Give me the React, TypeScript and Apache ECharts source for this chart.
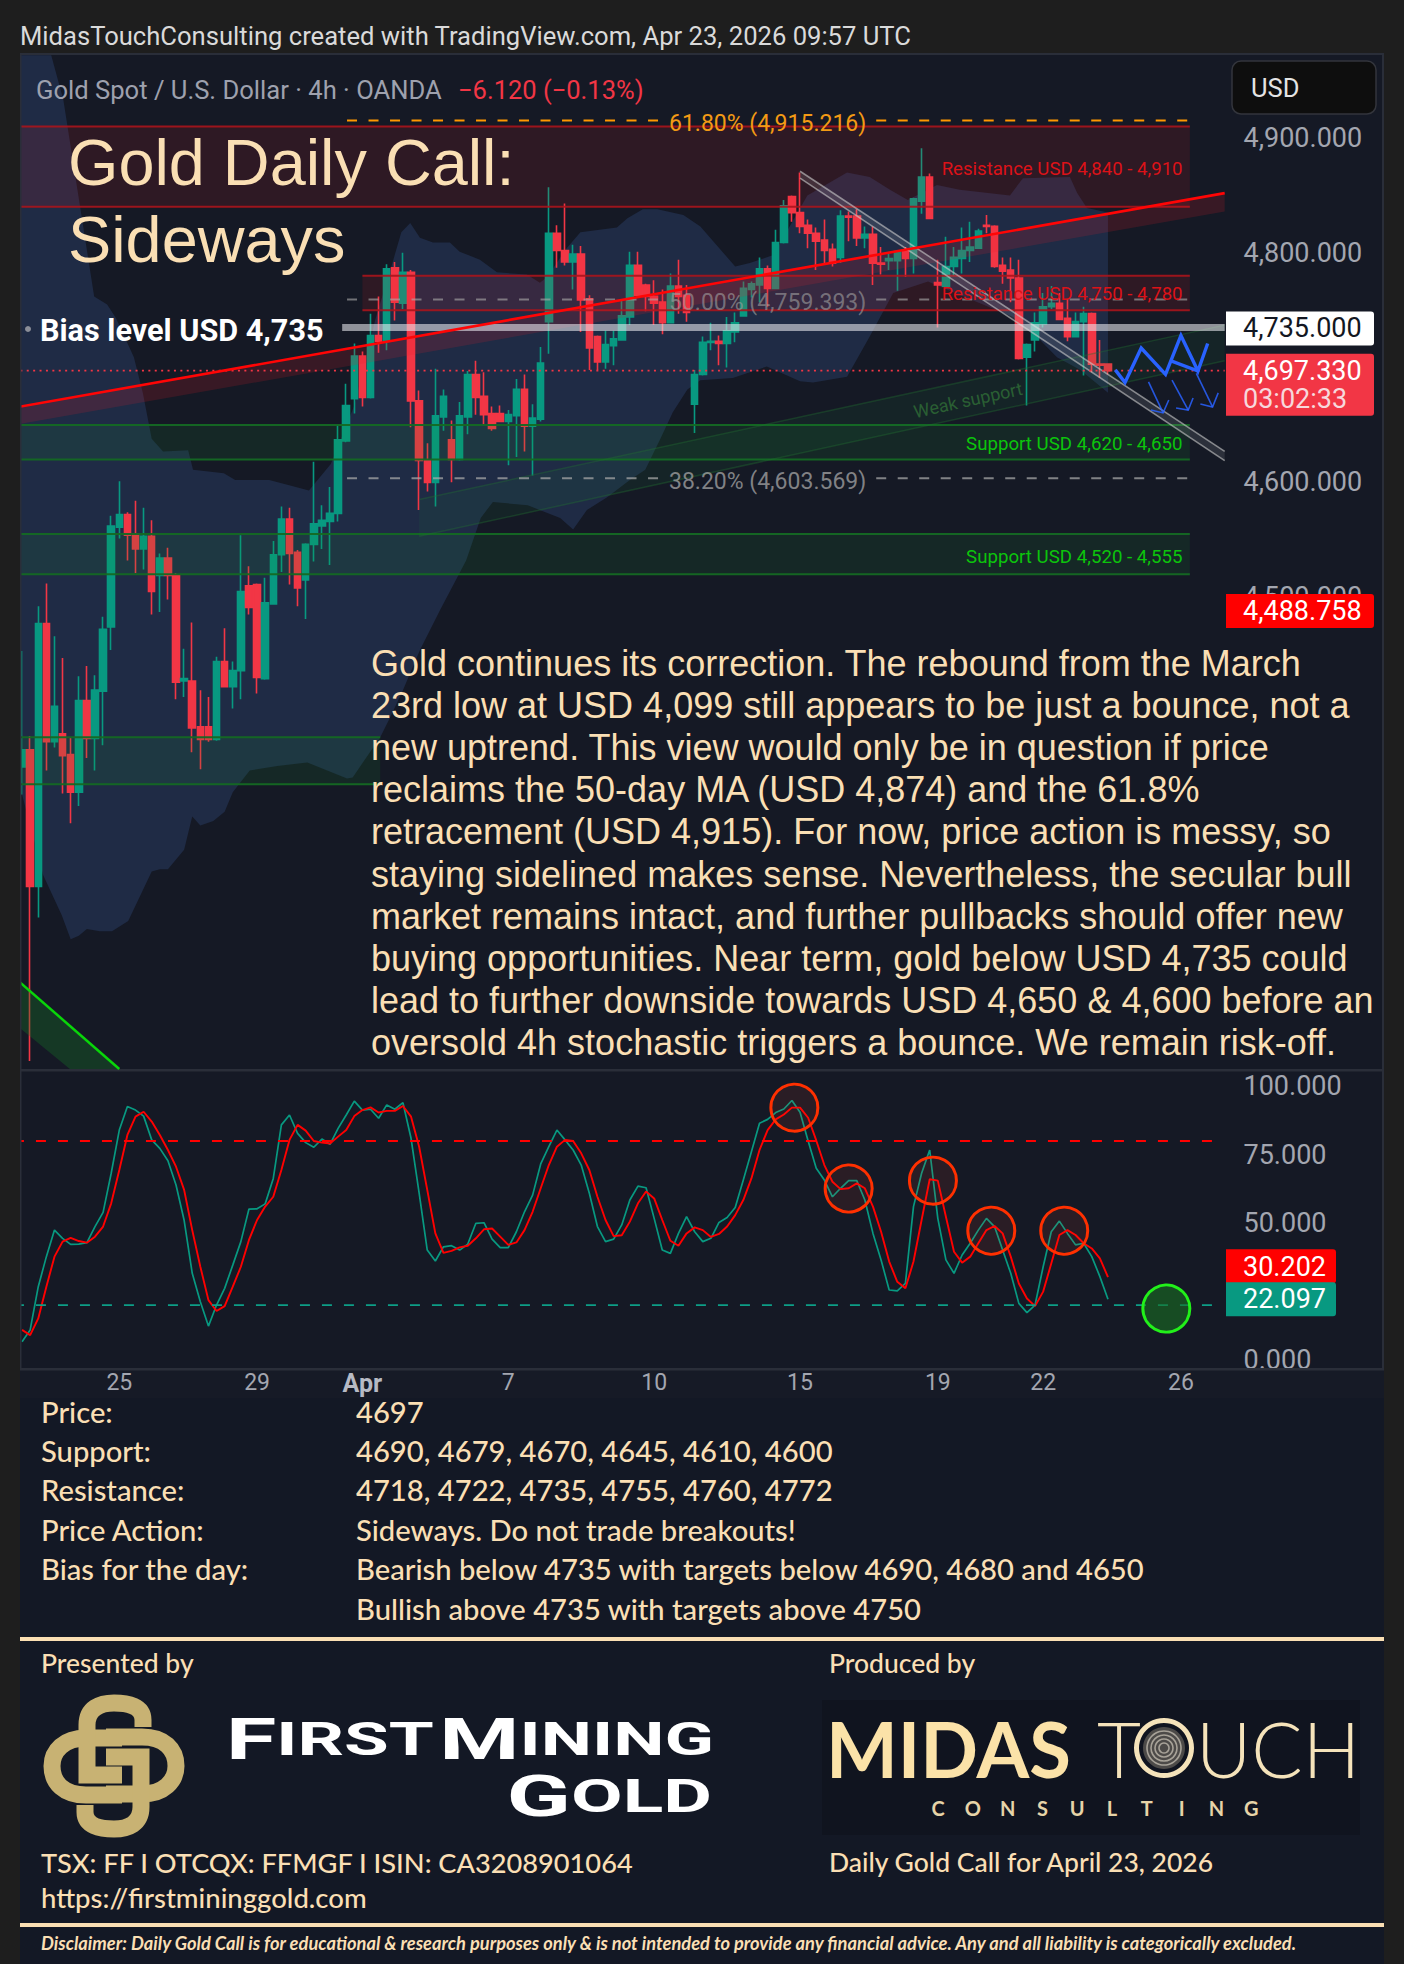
import React, { useEffect, useRef } from "react";
import * as echarts from "echarts";

// ---------- DATA ----------
const tickLabels: Record<number, string> = { 12: "25", 29: "29", 42: "Apr", 60: "7", 78: "10", 96: "15", 113: "19", 126: "22", 143: "26" };
const categories = Array.from({ length: 149 }, (_, i) => String(i));
const priceTicks = [4500, 4600, 4800, 4900];
const stochTicks = [0, 50, 75, 100];

// [open, close, low, high]
const candles: number[][] = [
  [4352,4367,4328,4453],[4367,4248,4096,4379],[4248,4477,4221,4492],[4477,4374,4349,4512],[4374,4405,4369,4466],
  [4381,4362,4329,4447],[4363,4330,4303,4378],[4330,4410,4318,4431],[4410,4377,4360,4440],[4377,4419,4349,4432],
  [4418,4472,4371,4483],[4474,4562,4454,4571],[4561,4572,4551,4601],[4572,4554,4532,4574],[4555,4542,4521,4584],
  [4542,4553,4524,4578],[4553,4505,4485,4567],[4519,4534,4487,4538],[4534,4519,4498,4543],[4519,4426,4411,4521],
  [4427,4429,4413,4455],[4427,4386,4365,4478],[4387,4376,4350,4419],[4387,4376,4374,4413],[4376,4444,4375,4448],
  [4444,4422,4422,4473],[4422,4436,4403,4444],[4436,4505,4411,4554],[4510,4491,4485,4527],[4511,4430,4416,4512],
  [4429,4495,4428,4517],[4494,4537,4494,4549],[4537,4568,4522,4579],[4568,4538,4511,4578],[4539,4508,4492,4541],
  [4515,4546,4481,4547],[4546,4564,4531,4618],[4562,4567,4542,4580],[4566,4573,4528,4596],[4573,4637,4566,4650],
  [4636,4667,4635,4686],[4673,4710,4660,4721],[4710,4674,4666,4714],[4674,4728,4673,4747],[4728,4723,4713,4762],
  [4723,4786,4715,4790],[4787,4757,4741,4792],[4756,4783,4751,4800],[4783,4671,4648,4785],[4671,4619,4576,4680],
  [4619,4600,4592,4634],[4600,4658,4579,4699],[4657,4675,4645,4681],[4637,4620,4600,4654],[4620,4658,4619,4670],
  [4657,4694,4642,4697],[4694,4674,4659,4706],[4675,4659,4650,4696],[4660,4647,4645,4666],[4660,4653,4653,4667],
  [4653,4659,4615,4663],[4658,4681,4622,4690],[4681,4649,4627,4694],[4649,4656,4606,4668],[4655,4704,4653,4718],
  [4740,4817,4712,4857],[4817,4802,4787,4824],[4802,4792,4789,4843],[4792,4799,4768,4807],[4799,4759,4731,4806],
  [4760,4717,4698,4763],[4727,4705,4698,4728],[4705,4720,4699,4732],[4719,4725,4702,4732],[4724,4745,4724,4759],
  [4744,4789,4737,4801],[4789,4763,4762,4801],[4772,4762,4749,4773],[4762,4756,4737,4776],[4757,4739,4729,4768],
  [4739,4771,4739,4782],[4771,4762,4747,4794],[4763,4748,4740,4772],[4668,4694,4643,4698],[4694,4722,4693,4727],
  [4722,4723,4715,4739],[4723,4721,4702,4728],[4721,4732,4700,4744],[4731,4739,4722,4748],[4745,4769,4745,4775],
  [4768,4773,4761,4775],[4772,4786,4757,4796],[4786,4769,4753,4789],[4769,4809,4769,4820],[4809,4841,4808,4846],
  [4849,4835,4827,4850],[4835,4823,4817,4870],[4824,4817,4804,4829],[4817,4810,4785,4822],[4811,4802,4791,4829],
  [4803,4791,4788,4808],[4796,4832,4791,4837],[4832,4831,4810,4836],[4832,4813,4806,4838],[4813,4816,4804,4823],
  [4816,4791,4772,4823],[4791,4790,4781,4805],[4793,4795,4785,4799],[4793,4801,4767,4802],[4802,4795,4779,4805],
  [4795,4847,4782,4848],[4845,4866,4834,4891],[4866,4830,4830,4869],[4774,4772,4735,4794],[4771,4788,4770,4814],
  [4788,4796,4780,4805],[4795,4802,4782,4822],[4802,4805,4792,4827],[4804,4819,4804,4821],[4824,4823,4817,4833],
  [4823,4788,4787,4824],[4789,4784,4773,4796],[4785,4778,4757,4796],[4778,4708,4707,4794],[4709,4720,4667,4721],
  [4724,4739,4714,4748],[4738,4753,4735,4765],[4753,4756,4751,4771],[4756,4742,4742,4765],[4743,4727,4723,4760],
  [4727,4740,4727,4748],[4740,4747,4693,4753],[4747,4703,4696,4748],[4703,4702,4691,4724],[4703,4697.33,4694,4703],
];

const stochK = [
  6.6,10.9,26.7,37.7,47.4,44.4,42.2,42.3,42.8,48.7,53.9,68.2,84,92.6,91.3,89.1,80.4,77.3,72.8,63.9,
  51,31.6,21.2,12.3,20,26.1,34.6,43.2,55.1,55.2,57,66.3,85.9,89.5,82.8,79.4,77.7,80.7,78.8,84.6,
  89.5,94.6,91.3,91.6,88.3,93.2,91.6,94,81,60.9,40.1,36.1,41.3,41.7,40.1,42.3,49.9,50.1,44.1,41,
  41,46.8,54.1,60.2,71.6,77.9,84,80.4,76.7,71.2,60.9,48.7,43.2,44.1,49.3,58.4,63.5,62.9,51.7,40.1,
  38.9,46.2,52.3,46.8,43.2,44.4,50.2,52,55.7,65.7,76.1,86.5,87.9,90.4,91.7,94.8,90.5,80,70,65.7,
  59.6,62.7,65.5,65.5,58.4,46.2,36.5,25.5,25.2,27.9,56,68.2,76.7,51.7,36.5,31.6,38.3,42.6,47.4,51.7,
  48.7,40.1,31.6,20.6,17.2,20,34,46.8,50.7,46.2,42,42.6,37.7,30.4,22.097,
];
const stochD = [
  10.9,9,15.1,26.7,37.7,43.2,44.6,43.4,42.8,45,48.7,57.2,69.4,82.2,88.9,90.7,87.1,82.2,76.7,70.6,
  62.1,47.4,34,21.8,17.8,19.6,26.7,34,43.8,51.1,56,59.6,69.4,80.4,85.9,83.8,80,79.4,79.1,81.6,
  84,89.1,91.3,92.3,90.4,91,91,92.8,88.9,77.9,62.1,46.2,39.1,39.8,41.1,41.7,44.4,47.7,48,45,
  42,42.9,47.4,54.1,62.7,71.2,77.9,80.4,80,75.5,69.4,59.6,51.1,45.2,45.5,50.5,57.2,61.5,59,51.1,
  43.5,41.7,46.2,48.4,47.4,44.9,46,48.7,52.9,58.4,66.3,76.7,84,87.9,89.7,92.2,92.2,88.5,80.2,71.2,
  65.1,62.4,62.7,64.5,62.7,56,46.8,35.9,28.5,26.1,35.9,51.1,66,65.5,52.3,39.5,35.5,37.7,42.6,47.4,
  48.9,46.2,37.7,27.9,22.4,19.6,24.9,35.2,45.6,47.4,45.6,42.6,40.7,37.1,30.202,
];

// Shaded price band behind the candles: [bar index, price]
const cloudOutline: number[][] = [
  [-1,4972],[3.6,4972],[5.1,4933],[8.9,4762],[10.5,4755],[11.6,4743],[13.8,4709],[14.9,4678],[16,4638],[17.4,4627],
  [20.5,4628],[21.1,4611],[24.9,4608],[26.3,4602],[30.5,4602],[33.2,4597],[35.4,4593],[38.1,4616],[41,4667],[43.6,4742],
  [45.9,4796],[46.8,4818],[47.9,4826],[49.1,4813],[50.7,4809],[52.8,4809],[54,4801],[56.5,4794],[58.6,4783],[62.3,4781],
  [63.9,4774],[64.8,4779],[67.2,4804],[68.9,4818],[73.4,4822],[74.7,4830],[76.6,4838],[78.4,4838],[81.6,4833],[83.7,4823],
  [88,4788],[89.8,4791],[92.7,4798],[96.9,4850],[101.8,4870],[104.6,4866],[107.1,4855],[109.3,4846],[112.9,4859],[115.7,4855],
  [121.9,4850],[123.5,4865],[129.3,4866],[130.2,4852],[131.4,4839],[134,4835],
  [134,4678],[130.6,4698],[127.7,4709],[124.8,4730],[122.3,4744],[114.1,4768],[111.8,4775],[107.5,4765],[104.6,4727],[103,4707],
  [101.8,4692],[97.6,4687],[96,4688],[91.9,4701],[87.7,4691],[83.7,4689],[82.1,4681],[80.3,4661],[78.7,4637],[76.9,4611],
  [75,4602],[72.2,4587],[69.7,4576],[68,4559],[66.4,4569],[62.4,4580],[58.1,4583],[56.6,4569],[54.8,4532],[51.6,4489],
  [49.1,4454],[47,4419],[45.4,4395],[44.2,4378],[40.8,4343],[40.1,4342],[35.2,4356],[31.5,4353],[28.1,4349],[26,4330],
  [25,4313],[23.6,4305],[22,4301],[21,4309],[20,4280],[18,4263],[17,4263],[16,4261],[13.1,4218],[11.1,4209],
  [9.6,4209],[8,4211],[7,4205],[6,4202],[4.9,4223],[2.6,4258],[0,4328],[-1,4328],
];

const resistanceZones = [
  { from: -1, to: 144.1, low: 4840, high: 4910, label: "Resistance USD 4,840 - 4,910", labelPrice: 4873 },
  { from: 42, to: 144.1, low: 4750, high: 4780, label: "Resistance USD 4,750 - 4,780", labelPrice: 4764 },
];
const supportZones = [
  { from: -1, to: 144.1, low: 4620, high: 4650, label: "Support USD 4,620 - 4,650", labelPrice: 4633 },
  { from: -1, to: 144.1, low: 4520, high: 4555, label: "Support USD 4,520 - 4,555", labelPrice: 4535 },
  { from: -1, to: 44.2, low: 4337, high: 4378, label: "", labelPrice: 0 },
];
const fibLevels = [
  { value: 4915.216, label: "61.80% (4,915.216)", color: "#ff9800", text: "#f39a14" },
  { value: 4759.393, label: "50.00% (4,759.393)", color: "rgba(170,170,170,.62)", text: "rgba(160,160,160,.62)" },
  { value: 4603.569, label: "38.20% (4,603.569)", color: "rgba(170,170,170,.72)", text: "rgba(165,165,165,.75)" },
];
const fibSpans = [[40.1, 78.7], [105.4, 144.1]];
const fibLabelBar = 92;

const lastPrice = 4697.33;
const biasLevel = 4735;
const lowLevel = 4488.758;
const overbought = 80;
const oversold = 20;

const redTrend = [[-1, 4665], [148.4, 4852]];
const redChannel = [[-1, 4665], [148.4, 4852], [148.4, 4836], [-1, 4650]];
const weakUpper = [[49, 4585], [148.4, 4737]];
const weakLower = [[49, 4553], [148.4, 4706]];
const greenTrend = [[-1, 4169], [12, 4089]];
const greenChannel = [[-1, 4169], [12, 4089], [5.9, 4089], [-1, 4129]];
const greyUpper = [[96, 4871], [148.4, 4627]];
const greyLower = [[96, 4865], [148.4, 4619]];
const blueZig = [[134.9,4698],[136.1,4687],[138.1,4717],[141.1,4694],[143,4728],[145.1,4697],[146.3,4721]];
const blueLink = [[141.7,4706],[145.1,4697]];
const blueArrows = [
  { shaft: [[139,4687.5],[140.8,4660.5]], barbs: [[141.5,4671.8],[140.8,4660.5],[139.3,4663]] },
  { shaft: [[141.9,4689],[143.9,4663]], barbs: [[144.5,4673.5],[143.9,4663],[142.4,4664.8]] },
  { shaft: [[144.9,4695],[146.9,4665.7]], barbs: [[147.6,4678],[146.9,4665.7],[145.4,4668.3]] },
];
const redRings = [[95.3,92.2],[102,62.6],[112.4,65.5],[119.6,47.2],[128.6,47.2]];
const greenRing = [141.2,18.7];

const paragraphLines = [
  "Gold continues its correction. The rebound from the March",
  "23rd low at USD 4,099 still appears to be just a bounce, not a",
  "new uptrend. This view would only be in question if price",
  "reclaims the 50-day MA (USD 4,874) and the 61.8%",
  "retracement (USD 4,915). For now, price action is messy, so",
  "staying sidelined makes sense. Nevertheless, the secular bull",
  "market remains intact, and further pullbacks should offer new",
  "buying opportunities. Near term, gold below USD 4,735 could",
  "lead to further downside towards USD 4,650 & 4,600 before an",
  "oversold 4h stochastic triggers a bounce. We remain risk-off.",
];
const tableRows = [
  ["Price:", "4697"],
  ["Support:", "4690, 4679, 4670, 4645, 4610, 4600"],
  ["Resistance:", "4718, 4722, 4735, 4755, 4760, 4772"],
  ["Price Action:", "Sideways. Do not trade breakouts!"],
  ["Bias for the day:", "Bearish below 4735 with targets below 4690, 4680 and 4650"],
  ["", "Bullish above 4735 with targets above 4750"],
];
const consultingLetters = "CONSULTING".split("");

// ---------- LOOK ----------
const UP = "#089981";
const DOWN = "#f23645";
const CREAM = "#fadfb4";
const AXIS = "#a3a6b0";
const UI = "Roboto";
const ARIAL = '"Liberation Sans"';
const SCALE_FONT = 27;

echarts.graphic.registerShape("knotHook", echarts.graphic.extendPath("M29 -39 V-46 C29 -60 14 -63 0 -63 C-14 -63 -27 -58 -27 -41 V9 H8", {}));
echarts.graphic.registerShape("knotLoop", echarts.graphic.extendPath("M8 -28 H-28 C-50 -28 -62 -15 -62 0 C-62 17 -50 29 -28 29 H8", {}));

const fmt = (v: number) => v.toLocaleString("en-US", { minimumFractionDigits: 3, maximumFractionDigits: 3 });

const pts = (api: any, list: number[][]) => list.map((p) => api.coord(p));
const lineEl = (api: any, list: number[][], stroke: string, lineWidth: number, lineDash?: number[]) => ({
  type: "polyline", shape: { points: pts(api, list) }, style: { fill: null, stroke, lineWidth, lineDash, lineCap: "butt", lineJoin: "miter" },
});
const polyEl = (api: any, list: number[][], fill: string) => ({ type: "polygon", shape: { points: pts(api, list) }, style: { fill, stroke: null } });
const textEl = (text: string, x: number, y: number, font: string, fill: string, align = "left", extra: any = {}) => ({
  type: "text",
  ...extra,
  style: { text, x, y, font, fill, align, textAlign: align, verticalAlign: "middle", textVerticalAlign: "middle" },
});
const overlay = (id: string, axis: number, z: number, clip: boolean, sample: number[], build: (api: any) => any[]) => ({
  type: "custom", id, name: id, coordinateSystem: "cartesian2d", xAxisIndex: axis + 2, yAxisIndex: axis, z, clip, silent: true,
  data: [sample], encode: { x: 0, y: 1 },
  renderItem: (_p: any, api: any) => ({ type: "group", children: build(api) }),
});

function buildGraphics() {
  const els: any[] = [];
  const rect = (x: number, y: number, w: number, h: number, fill: string, z = -5, r = 0, stroke?: string) =>
    els.push({ type: "rect", z, silent: true, shape: { x, y, width: w, height: h, r }, style: { fill, stroke, lineWidth: stroke ? 1.5 : 0 } });
  const text = (t: string, x: number, y: number, font: string, fill: string, align = "left", extra: any = {}) =>
    els.push({ z: 30, silent: true, ...textEl(t, x, y, font, fill, align, extra) });

  // frames and panels
  rect(20, 54, 1364, 1316, "#151925", -6);
  rect(20, 1370, 1364, 28, "#161a26", -6);
  rect(20, 1398, 1364, 566, "#131825", -6);
  rect(0, 40, 20, 1335, "#1e1e1e", 20);
  rect(20, 1069, 1364, 2.5, "#2a2e39", 6);
  rect(20, 1368, 1364, 2.5, "#2a2e39", 6);
  rect(20, 53, 1364, 2, "#2a2e39", 6);
  rect(20, 54, 1.5, 1316, "#2a2e39", 21);
  rect(1382, 54, 2, 1316, "#2a2e39", 6);
  rect(1384, 1375, 20, 589, "#1e1e1e", 6);
  rect(0, 1375, 20, 589, "#1e1e1e", 6);

  // header
  text("MidasTouchConsulting created with TradingView.com, Apr 23, 2026 09:57 UTC", 20, 36, `400 25.6px ${UI}`, "#dadada");
  text("Gold Spot / U.S. Dollar · 4h · OANDA", 36, 90, `400 25.6px ${UI}`, "#9ea1ae");
  text("−6.120 (−0.13%)", 458, 90, `400 25.5px ${UI}`, "#f23645");

  // currency button
  rect(1232, 61, 144, 53, "#0e0e0e", 8, 9, "#33353c");
  text("USD", 1251, 88, `400 25.5px ${UI}`, "#e4e4e4");

  // headline
  text("Gold Daily Call:", 68, 162, `400 64.8px ${ARIAL}`, CREAM);
  text("Sideways", 68, 239, `400 64.8px ${ARIAL}`, CREAM);
  els.push({ type: "circle", z: 30, silent: true, shape: { cx: 28, cy: 329, r: 3 }, style: { fill: "#8b8e98" } });
  text("Bias level USD 4,735", 40, 330, `700 30.6px ${UI}`, "#ffffff");

  // commentary
  paragraphLines.forEach((l, i) => text(l, 371, 663 + i * 42.2, `400 36px ${ARIAL}`, CREAM));

  // weak support label
  els.push({
    z: 12, silent: true, type: "text", x: 968, y: 400, rotation: 0.215, originX: 0, originY: 0,
    style: { text: "Weak support", x: 0, y: 0, font: `400 18px ${UI}`, fill: "#2a5f33", align: "center", textAlign: "center", verticalAlign: "middle", textVerticalAlign: "middle" },
  });

  // levels table
  tableRows.forEach((r, i) => {
    const y = 1411 + i * 39.4;
    if (r[0]) text(r[0], 41, y, "500 29.2px Lato", CREAM);
    text(r[1], 356, y, "500 29.2px Lato", CREAM);
  });
  rect(20, 1637, 1364, 4, CREAM, 10);
  rect(20, 1923, 1364, 4, CREAM, 10);

  // sponsor blocks
  text("Presented by", 41, 1663, "500 26.5px Lato", CREAM);
  text("Produced by", 829, 1663, "500 26.5px Lato", CREAM);
  text("TSX: FF I OTCQX: FFMGF I ISIN: CA3208901064", 41, 1862, "500 27.2px Lato", CREAM);
  text("https://firstmininggold.com", 41, 1897, "500 27.5px Lato", CREAM);
  text("Daily Gold Call for April 23, 2026", 829, 1862, "500 26.5px Lato", CREAM);
  text("Disclaimer: Daily Gold Call is for educational & research purposes only & is not intended to provide any financial advice. Any and all liability is categorically excluded.", 41, 1943, "italic 700 18.3px Lato", CREAM);

  // First Mining emblem
  const gold = "#c8b273";
  [0, Math.PI].forEach((rotation) => {
    els.push({ type: "knotLoop", x: 114, y: 1766, rotation, z: 30, silent: true, style: { fill: "none", stroke: gold, lineWidth: 17 } });
    els.push({ type: "knotHook", x: 114, y: 1766, rotation, z: 31, silent: true, style: { fill: "none", stroke: gold, lineWidth: 17 } });
  });
  // First Mining wordmark
  els.push({
    type: "text", z: 30, silent: true, x: 226, y: 1739, scaleX: 1.58,
    style: {
      text: "{a|F}{b|IRST} {a|M}{b|INING}", x: 0, y: 0, fill: "#fff", verticalAlign: "middle", textVerticalAlign: "middle",
      rich: { a: { font: "700 58px Roboto", fill: "#fff" }, b: { font: "700 46px Roboto", fill: "#fff" } },
    },
  });
  els.push({
    type: "text", z: 30, silent: true, x: 712, y: 1796, scaleX: 1.63,
    style: {
      text: "{a|G}{b|OLD}", x: 0, y: 0, fill: "#fff", align: "right", textAlign: "right", verticalAlign: "middle", textVerticalAlign: "middle",
      rich: { a: { font: "700 58px Roboto", fill: "#fff" }, b: { font: "700 46px Roboto", fill: "#fff" } },
    },
  });

  // Midas Touch wordmark
  rect(822, 1700, 538, 135, "#10141f", 10);
  text("MIDAS", 826, 1748, "700 76px Lato", "#fbe2a8");
  text("T", 1097, 1748, "300 76px Lato", "#f5e3ba");
  text("UCH", 1196, 1748, "300 76px Lato", "#f5e3ba");
  els.push({ type: "ring", z: 31, silent: true, shape: { cx: 1164, cy: 1748, r: 30, r0: 25 }, style: { fill: "#f5e3ba" } });
  els.push({ type: "circle", z: 31, silent: true, shape: { cx: 1164, cy: 1748, r: 21 }, style: { fill: "#4c4a48" } });
  [17, 13, 9, 5].forEach((r) =>
    els.push({ type: "ring", z: 32, silent: true, shape: { cx: 1164, cy: 1748, r: r + 0.8, r0: r - 0.8 }, style: { fill: "#a7a298" } })
  );
  consultingLetters.forEach((c, i) => text(c, 938 + i * 34.8, 1808, "700 20px Lato", "#e7d4a8", "center"));

  return els;
}

function buildOption(): any {
  const gridLeft = 18;
  const gridWidth = 1207.5;
  const priceMin = 4088.1;
  const priceMax = 4972.3;

  const hiddenValueX = (gridIndex: number) => ({
    type: "value", gridIndex, min: -0.5, max: 148.5, show: false,
    axisLabel: { show: false }, splitLine: { show: false }, axisLine: { show: false }, axisTick: { show: false },
  });

  return {
    animation: false,
    backgroundColor: "#1e1e1e",
    grid: [
      { left: gridLeft, top: 55, width: gridWidth, height: 1015 },
      { left: gridLeft, top: 1071, width: gridWidth, height: 298 },
    ],
    xAxis: [
      { type: "category", gridIndex: 0, data: categories, show: false, boundaryGap: true },
      {
        type: "category", gridIndex: 1, data: categories, boundaryGap: true,
        axisLine: { show: false }, axisTick: { show: false }, splitLine: { show: false },
        axisLabel: {
          interval: (i: number) => tickLabels[i] !== undefined,
          hideOverlap: false, margin: 2,
          formatter: (_v: string, i: number) => (tickLabels[i] === "Apr" ? "{b|Apr}" : tickLabels[i] || ""),
          color: AXIS, fontFamily: UI, fontSize: 23,
          rich: { b: { color: "#b7bac4", fontFamily: UI, fontSize: 25, fontWeight: 700 } },
        },
      },
      hiddenValueX(0),
      hiddenValueX(1),
    ],
    yAxis: [
      {
        type: "value", gridIndex: 0, position: "right", min: priceMin, max: priceMax, scale: true,
        axisLine: { show: false }, splitLine: { show: false },
        axisTick: { show: false, customValues: priceTicks },
        axisLabel: { customValues: priceTicks, margin: 18, color: AXIS, fontFamily: UI, fontSize: SCALE_FONT, formatter: (v: number) => fmt(v), hideOverlap: false },
      },
      {
        type: "value", gridIndex: 1, position: "right", min: -3.4, max: 105.6,
        axisLine: { show: false }, splitLine: { show: false },
        axisTick: { show: false, customValues: stochTicks },
        axisLabel: { customValues: stochTicks, margin: 18, color: AXIS, fontFamily: UI, fontSize: SCALE_FONT, formatter: (v: number) => fmt(v), hideOverlap: false },
      },
    ],
    series: [
      overlay("cloud", 0, 1, true, [0, 4700], (api) => [polyEl(api, cloudOutline, "#1f2b45")]),
      {
        type: "candlestick", name: "Gold Spot / U.S. Dollar", xAxisIndex: 0, yAxisIndex: 0, z: 3, barWidth: 7, clip: true,
        data: candles,
        itemStyle: { color: UP, color0: DOWN, borderColor: UP, borderColor0: DOWN, borderWidth: 1.6 },
      },
      overlay("zones", 0, 5, true, [0, 4700], (api) => {
        const out: any[] = [];
        resistanceZones.forEach((z) => {
          out.push(polyEl(api, [[z.from, z.high], [z.to, z.high], [z.to, z.low], [z.from, z.low]], "rgba(255,30,40,.11)"));
          out.push(lineEl(api, [[z.from, z.high], [z.to, z.high]], "rgba(170,20,28,.9)", 2));
          out.push(lineEl(api, [[z.from, z.low], [z.to, z.low]], "rgba(170,20,28,.9)", 2));
        });
        supportZones.forEach((z) => {
          out.push(polyEl(api, [[z.from, z.high], [z.to, z.high], [z.to, z.low], [z.from, z.low]], "rgba(20,150,50,.13)"));
          out.push(lineEl(api, [[z.from, z.high], [z.to, z.high]], "rgba(20,105,35,.95)", 2));
          out.push(lineEl(api, [[z.from, z.low], [z.to, z.low]], "rgba(20,105,35,.95)", 2));
        });
        return out;
      }),
      overlay("drawings", 0, 7, true, [0, 4700], (api) => [
        polyEl(api, redChannel, "rgba(230,30,40,.17)"),
        polyEl(api, [...weakUpper, ...[...weakLower].reverse()], "rgba(30,140,60,.1)"),
        lineEl(api, weakUpper, "rgba(35,110,50,.38)", 1.5),
        lineEl(api, weakLower, "rgba(35,110,50,.38)", 1.5),
        polyEl(api, greenChannel, "rgba(20,120,40,.33)"),
        lineEl(api, greenTrend, "#09d509", 2.5),
        polyEl(api, [...greyUpper, ...[...greyLower].reverse()], "rgba(255,255,255,.1)"),
        lineEl(api, greyUpper, "rgba(205,205,205,.6)", 1.6),
        lineEl(api, greyLower, "rgba(205,205,205,.6)", 1.6),
        ...fibLevels.flatMap((f) => fibSpans.map((s) => lineEl(api, [[s[0], f.value], [s[1], f.value]], f.color, 2, [10, 11.5]))),
        lineEl(api, [[-1, lastPrice], [148.4, lastPrice]], "#f23645", 1.6, [2, 4.4]),
        lineEl(api, [[39.5, biasLevel], [148.4, biasLevel]], "rgba(235,235,240,.58)", 7),
        lineEl(api, redTrend, "#ff0505", 2.6),
        lineEl(api, blueZig, "#2962ff", 3.4),
        lineEl(api, blueLink, "#2962ff", 3.4),
        ...blueArrows.flatMap((a) => [lineEl(api, a.shaft, "rgba(41,98,255,.85)", 1.6), lineEl(api, a.barbs, "rgba(41,98,255,.85)", 1.6)]),
      ]),
      overlay("level-labels", 0, 9, false, [0, 4700], (api) => [
        ...fibLevels.map((f) => {
          const [x, y] = api.coord([fibLabelBar, f.value]);
          return textEl(f.label, x, y + 3, `400 23px ${UI}`, f.text, "center");
        }),
        ...[...resistanceZones].map((z) => {
          const [x, y] = api.coord([143.2, z.labelPrice]);
          return textEl(z.label, x, y, `400 18.6px ${UI}`, "#dc1218", "right");
        }),
        ...supportZones.filter((z) => z.label).map((z) => {
          const [x, y] = api.coord([143.2, z.labelPrice]);
          return textEl(z.label, x, y, `400 18.7px ${UI}`, "#0cc40c", "right");
        }),
      ]),
      overlay("price-badges", 0, 15, false, [0, 4700], (api) => {
        const yBias = api.coord([0, biasLevel])[1];
        const yLast = api.coord([0, lastPrice])[1];
        const yLow = api.coord([0, lowLevel])[1];
        const box = (y0: number, h: number, fill: string) => ({ type: "rect", shape: { x: 1226, y: y0, width: 148, height: h, r: [0, 3, 3, 0] }, style: { fill } });
        return [
          box(yBias - 16, 34, "#ffffff"),
          textEl(fmt(biasLevel), 1243, yBias + 1, `400 ${SCALE_FONT}px ${UI}`, "#131722"),
          box(yLast - 17, 62, "#f23645"),
          textEl(fmt(lastPrice), 1243, yLast, `400 ${SCALE_FONT}px ${UI}`, "#ffffff"),
          textEl("03:02:33", 1243, yLast + 28, `400 ${SCALE_FONT}px ${UI}`, "#f7d8dc"),
          box(yLow - 16, 34, "#ff0000"),
          textEl(fmt(lowLevel), 1243, yLow + 1, `400 ${SCALE_FONT}px ${UI}`, "#ffffff"),
        ];
      }),
      {
        type: "line", name: "%K", xAxisIndex: 1, yAxisIndex: 1, data: stochK, z: 4, showSymbol: false, symbol: "none", smooth: false, clip: true,
        lineStyle: { color: UP, width: 1.7 }, silent: true,
      },
      {
        type: "line", name: "%D", xAxisIndex: 1, yAxisIndex: 1, data: stochD, z: 5, showSymbol: false, symbol: "none", smooth: false, clip: true,
        lineStyle: { color: "#ff0000", width: 1.9 }, silent: true,
      },
      overlay("stoch-drawings", 1, 6, true, [0, 50], (api) => [
        lineEl(api, [[-1, overbought], [147.4, overbought]], "#ff0000", 1.8, [10, 12]),
        lineEl(api, [[-1, oversold], [147.4, oversold]], "#0d9e87", 1.8, [10, 12]),
        ...redRings.map((c) => {
          const [cx, cy] = api.coord(c);
          return { type: "circle", shape: { cx, cy, r: 23.5 }, style: { fill: "rgba(255,80,40,.09)", stroke: "#ff3000", lineWidth: 3 } };
        }),
        (() => {
          const [cx, cy] = api.coord(greenRing);
          return { type: "circle", shape: { cx, cy, r: 23.5 }, style: { fill: "rgba(25,110,35,.6)", stroke: "#22f01a", lineWidth: 3 } };
        })(),
      ]),
      overlay("stoch-badges", 1, 15, false, [0, 50], (api) => {
        const yD = api.coord([0, stochD[stochD.length - 1]])[1];
        const yK = api.coord([0, stochK[stochK.length - 1]])[1];
        const box = (y0: number, h: number, fill: string) => ({ type: "rect", shape: { x: 1226, y: y0, width: 110, height: h, r: [0, 3, 3, 0] }, style: { fill } });
        return [
          box(yD - 28, 34, "#ff0000"),
          textEl(stochD[stochD.length - 1].toFixed(3), 1243, yD - 10, `400 ${SCALE_FONT}px ${UI}`, "#ffffff"),
          box(yK - 17, 34, UP),
          textEl(stochK[stochK.length - 1].toFixed(3), 1243, yK, `400 ${SCALE_FONT}px ${UI}`, "#ffffff"),
        ];
      }),
    ],
    graphic: { elements: buildGraphics() },
  };
}

export default function App() {
  const ref = useRef<HTMLDivElement>(null);
  useEffect(() => {
    document.body.style.margin = "0";
    document.body.style.background = "#1e1e1e";
    const chart = echarts.init(ref.current!, undefined, { renderer: "svg", width: 1404, height: 1964 });
    chart.setOption(buildOption());
    return () => chart.dispose();
  }, []);
  return <div ref={ref} style={{ width: 1404, height: 1964 }} />;
}
